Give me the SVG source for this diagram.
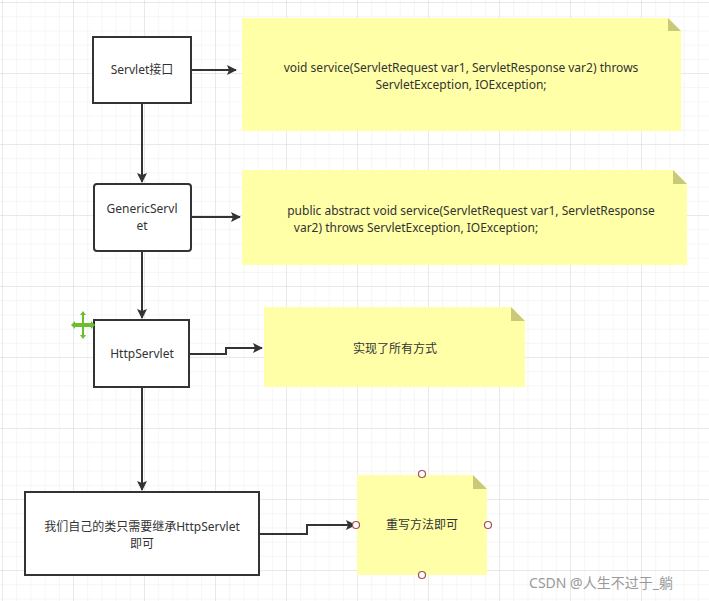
<svg xmlns="http://www.w3.org/2000/svg" width="709" height="601" viewBox="0 0 709 601">
<defs>
<pattern id="g" width="14.2" height="14.2" patternUnits="userSpaceOnUse" x="3" y="3"><path d="M14.2 0V14.2H0" fill="none" stroke="#ececec" stroke-width="1"/></pattern>
<pattern id="G" width="71" height="71" patternUnits="userSpaceOnUse" x="3" y="3"><path d="M71 0V71H0" fill="none" stroke="#dcdcdc" stroke-width="1"/></pattern>
<marker id="a" markerWidth="10" markerHeight="10" refX="9" refY="5" orient="auto" markerUnits="userSpaceOnUse"><path d="M0 0L10 5L0 10L2 5Z" fill="#333"/></marker>
</defs>
<style>
.b{fill:#fff;stroke:#333;stroke-width:2}
.n{fill:#ffffa8}
.f{fill:#c9c97a}
.c{fill:none;stroke:#333;stroke-width:2;marker-end:url(#a)}
text{font-family:"Noto Sans","Noto Sans CJK SC",sans-serif;font-size:12px;fill:#333;text-anchor:middle}
.h{fill:#fff;stroke:#a05050;stroke-width:1.2}
</style>
<rect width="709" height="601" fill="#fff"/>
<rect width="709" height="601" fill="url(#g)"/>
<rect width="709" height="601" fill="url(#G)"/>
<g id="connectors">
<path class="c" d="M191 70H236"/>
<path class="c" d="M142 103V182"/>
<path class="c" d="M191 217H240"/>
<path class="c" d="M142 251V318"/>
<path class="c" d="M189 354H226V348H262"/>
<path class="c" d="M142 387V490"/>
<path class="c" d="M259 534H307V525H355"/>
</g>
<g id="servlet"><rect class="b" x="93" y="37" width="98" height="66"/><text x="142" y="74">Servlet接口</text></g>
<g id="note1"><path class="n" d="M242 18H668L681 31V131H242Z"/><path class="f" d="M668 18L681 31H668Z"/><text x="461" y="72">void service(ServletRequest var1, ServletResponse var2) throws</text><text x="461" y="89">ServletException, IOException;</text></g>
<g id="generic"><rect class="b" x="94" y="184" width="97" height="67" rx="3"/><text x="142" y="213">GenericServl</text><text x="142" y="230">et</text></g>
<g id="note2"><path class="n" d="M242 170H673L687 184V265H242Z"/><path class="f" d="M673 170L687 184H673Z"/><text x="471" y="215">public abstract void service(ServletRequest var1, ServletResponse</text><text x="416" y="232">var2) throws ServletException, IOException;</text></g>
<g id="http"><rect class="b" x="94" y="320" width="95" height="67"/><text x="142" y="358">HttpServlet</text></g>
<g id="note3"><path class="n" d="M264 307H511L525 321V387H264Z"/><path class="f" d="M511 307L525 321H511Z"/><text x="395" y="353">实现了所有方式</text></g>
<g id="mine"><rect class="b" x="25" y="492" width="234" height="83"/><text x="142" y="531">我们自己的类只需要继承HttpServlet</text><text x="142" y="548">即可</text></g>
<g id="note4"><path class="n" d="M357 475H473L487 489V575H357Z"/><path class="f" d="M473 475L487 489H473Z"/><text x="422" y="529">重写方法即可</text>
<circle class="h" cx="422" cy="474" r="3.5"/><circle class="h" cx="488" cy="525" r="3.5"/><circle class="h" cx="422" cy="575" r="3.5"/><circle class="h" cx="356" cy="525" r="3.5"/></g>
<g id="move" fill="#6cbf2a"><path d="M80 315L83 311L86 315H84V323H91V321L95 325L91 329V327H84V335H86L83 339L80 335H82V327H75V329L71 325L75 321V323H82V315Z"/></g>
<text x="601" y="588" style="font-size:14px;fill:#999">CSDN @人生不过于_躺</text>
</svg>
